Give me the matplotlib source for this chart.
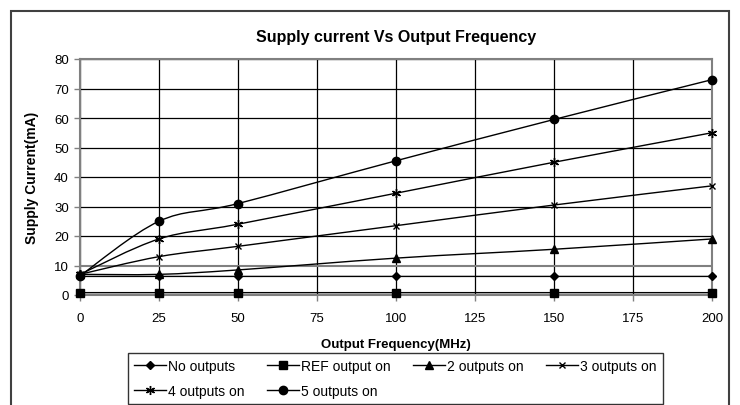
import matplotlib
matplotlib.use("Agg")
import matplotlib.pyplot as plt
from matplotlib.path import Path
from matplotlib.patches import PathPatch, Rectangle
from matplotlib.lines import Line2D

plt.rcParams['font.family'] = ['Liberation Sans', 'DejaVu Sans']

freq = [0, 25, 50, 100, 150, 200]
no_outputs = [6.3, 6.3, 6.3, 6.3, 6.3, 6.3]
ref_on = [0.8, 0.8, 0.8, 0.8, 0.8, 0.8]
two_on = [7.0, 7.0, 8.5, 12.5, 15.5, 19.0]
three_on = [7.0, 13.0, 16.5, 23.5, 30.5, 37.0]
four_on = [7.0, 19.0, 24.0, 34.5, 45.0, 55.0]
five_on = [6.5, 25.0, 31.0, 45.5, 59.5, 73.0]

series = [
    ("No outputs", no_outputs, 'D', 4.5),
    ("REF output on", ref_on, 's', 5.5),
    ("2 outputs on", two_on, '^', 5.5),
    ("3 outputs on", three_on, 'x', 5),
    ("4 outputs on", four_on, (6, 2, 0), 6.5),
    ("5 outputs on", five_on, 'o', 6),
]


def smooth_path(x, y):
    # Excel style smoothed line: Catmull-Rom segments as cubic Beziers
    pts = list(zip(x, y))
    verts = [pts[0]]
    codes = [Path.MOVETO]
    n = len(pts)
    for i in range(n - 1):
        p0 = pts[i - 1] if i > 0 else pts[i]
        p1 = pts[i]
        p2 = pts[i + 1]
        p3 = pts[i + 2] if i + 2 < n else pts[i + 1]
        c1 = (p1[0] + (p2[0] - p0[0]) / 6, p1[1] + (p2[1] - p0[1]) / 6)
        c2 = (p2[0] - (p3[0] - p1[0]) / 6, p2[1] - (p3[1] - p1[1]) / 6)
        verts += [c1, c2, p2]
        codes += [Path.CURVE4] * 3
    return Path(verts, codes)


fig = plt.figure(figsize=(7.4, 4.06), dpi=100)
ax = fig.add_axes([80 / 740, 1 - 296 / 406, 632 / 740, 236 / 406])

handles = []
for name, vals, mk, ms in series:
    ax.add_patch(PathPatch(smooth_path(freq, vals), facecolor='none',
                           edgecolor='black', lw=1.0, zorder=3))
    ax.plot(freq, vals, linestyle='none', marker=mk, ms=ms, color='black',
            mec='black', mew=1.0, zorder=4, clip_on=False)
    handles.append(Line2D([], [], color='black', lw=1.0, marker=mk, ms=ms,
                          mew=1.0))

ax.set_xlim(0, 200)
ax.set_ylim(0, 80)
ax.set_xticks(range(0, 201, 25))
ax.set_yticks(range(0, 81, 10))
ax.grid(True, color='black', lw=0.9)
ax.set_axisbelow(True)
for i, gl in enumerate(ax.yaxis.get_gridlines()):
    if i in (0, 1):
        gl.set_color('#808080')
        gl.set_linewidth(1.5)
for s in ax.spines.values():
    s.set_color('#808080')
    s.set_linewidth(1.5)
ax.tick_params(direction='out', length=4, width=1, color='#808080',
               labelsize=9.5, pad=4)
ax.tick_params(axis='x', pad=8)

ax.set_title("Supply current Vs Output Frequency", fontsize=11.5,
             fontweight='bold', pad=13)
ax.set_xlabel("Output Frequency(MHz)", fontsize=9.5, fontweight='bold',
              labelpad=10)
ax.set_ylabel("Supply Current(mA)", fontsize=10, fontweight='bold',
              labelpad=11)

# legend reads row by row: matplotlib fills columns first
order = [0, 4, 1, 5, 2, 3]
leg = fig.legend([handles[i] for i in order], [series[i][0] for i in order],
                 loc='upper left', bbox_to_anchor=(128 / 740, 1 - 354 / 406),
                 ncol=4, fontsize=10, frameon=True, fancybox=False,
                 handlelength=2.3, handletextpad=0.15, columnspacing=1.6,
                 borderpad=0.45, labelspacing=0.75, borderaxespad=0)
leg.get_frame().set_edgecolor('black')
leg.get_frame().set_linewidth(1.0)

fig.patches.append(Rectangle((11 / 740, -0.05), 718 / 740, 1.05 - 12 / 406,
                             transform=fig.transFigure, fill=False,
                             edgecolor='#404040', lw=1.5))

fig.savefig("out.png", dpi=100)
